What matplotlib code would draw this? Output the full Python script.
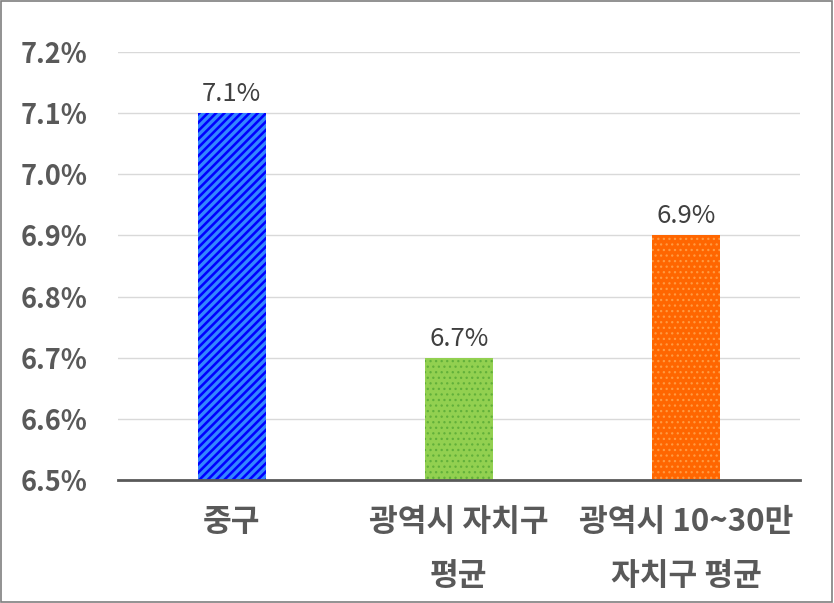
import matplotlib
matplotlib.use('Agg')
import matplotlib.pyplot as plt
from matplotlib.patches import Rectangle

plt.rcParams['font.family'] = ['Noto Sans CJK KR', 'DejaVu Sans']

categories = ['중구', '광역시 자치구\n평균', '광역시 10~30만\n자치구 평균']
values = [7.1, 6.7, 6.9]
value_labels = ['7.1%', '6.7%', '6.9%']
yticks = [6.5, 6.6, 6.7, 6.8, 6.9, 7.0, 7.1, 7.2]

face_colors = ['#0000FF', '#92D050', '#FF6600']
hatch_colors = ['#3385FF', '#62B03A', '#FF9A40']
hatches = ['////', '...', '...']
hatch_widths = [2.4, 0.9, 0.9]

grey = '#595959'

fig = plt.figure(figsize=(8.34, 6.03), dpi=100)
ax = fig.add_axes([0.1415, 0.204, 0.8175, 0.7098])

x = list(range(len(categories)))
for xi, v, fc, hc, h, hw in zip(x, values, face_colors, hatch_colors, hatches, hatch_widths):
    with matplotlib.rc_context({'hatch.linewidth': hw, 'hatch.color': hc}):
        ax.bar(xi, v, width=0.3, color=fc, edgecolor=hc, hatch=h, linewidth=0, zorder=3)

for xi, v, lab in zip(x, values, value_labels):
    ax.text(xi, v + 0.01, lab, ha='center', va='bottom', fontsize=18.5, color='#404040')

ax.set_ylim(6.5, 7.2)
ax.set_xlim(-0.5, 2.5)
ax.set_yticks(yticks)
ax.set_yticklabels([f'{t:.1f}%' for t in yticks], fontsize=19.5, fontweight='bold', color=grey)
ax.set_xticks(x)
ax.set_xticklabels(categories, fontsize=22.5, fontweight='bold', color=grey, linespacing=1.88)
ax.tick_params(axis='y', length=0, pad=22)
ax.tick_params(axis='x', length=0, pad=19)
ax.yaxis.grid(True, color='#D9D9D9', linewidth=1, zorder=0)
ax.set_axisbelow(True)
for s in ['left', 'right', 'top']:
    ax.spines[s].set_visible(False)
ax.spines['bottom'].set_color(grey)
ax.spines['bottom'].set_linewidth(2)
ax.spines['bottom'].set_zorder(4)

fig.patches.append(Rectangle((0.001, 0.001), 0.997, 0.997, transform=fig.transFigure,
                             fill=False, edgecolor='#7F7F7F', linewidth=1.2))

fig.savefig('out.png', dpi=100)
